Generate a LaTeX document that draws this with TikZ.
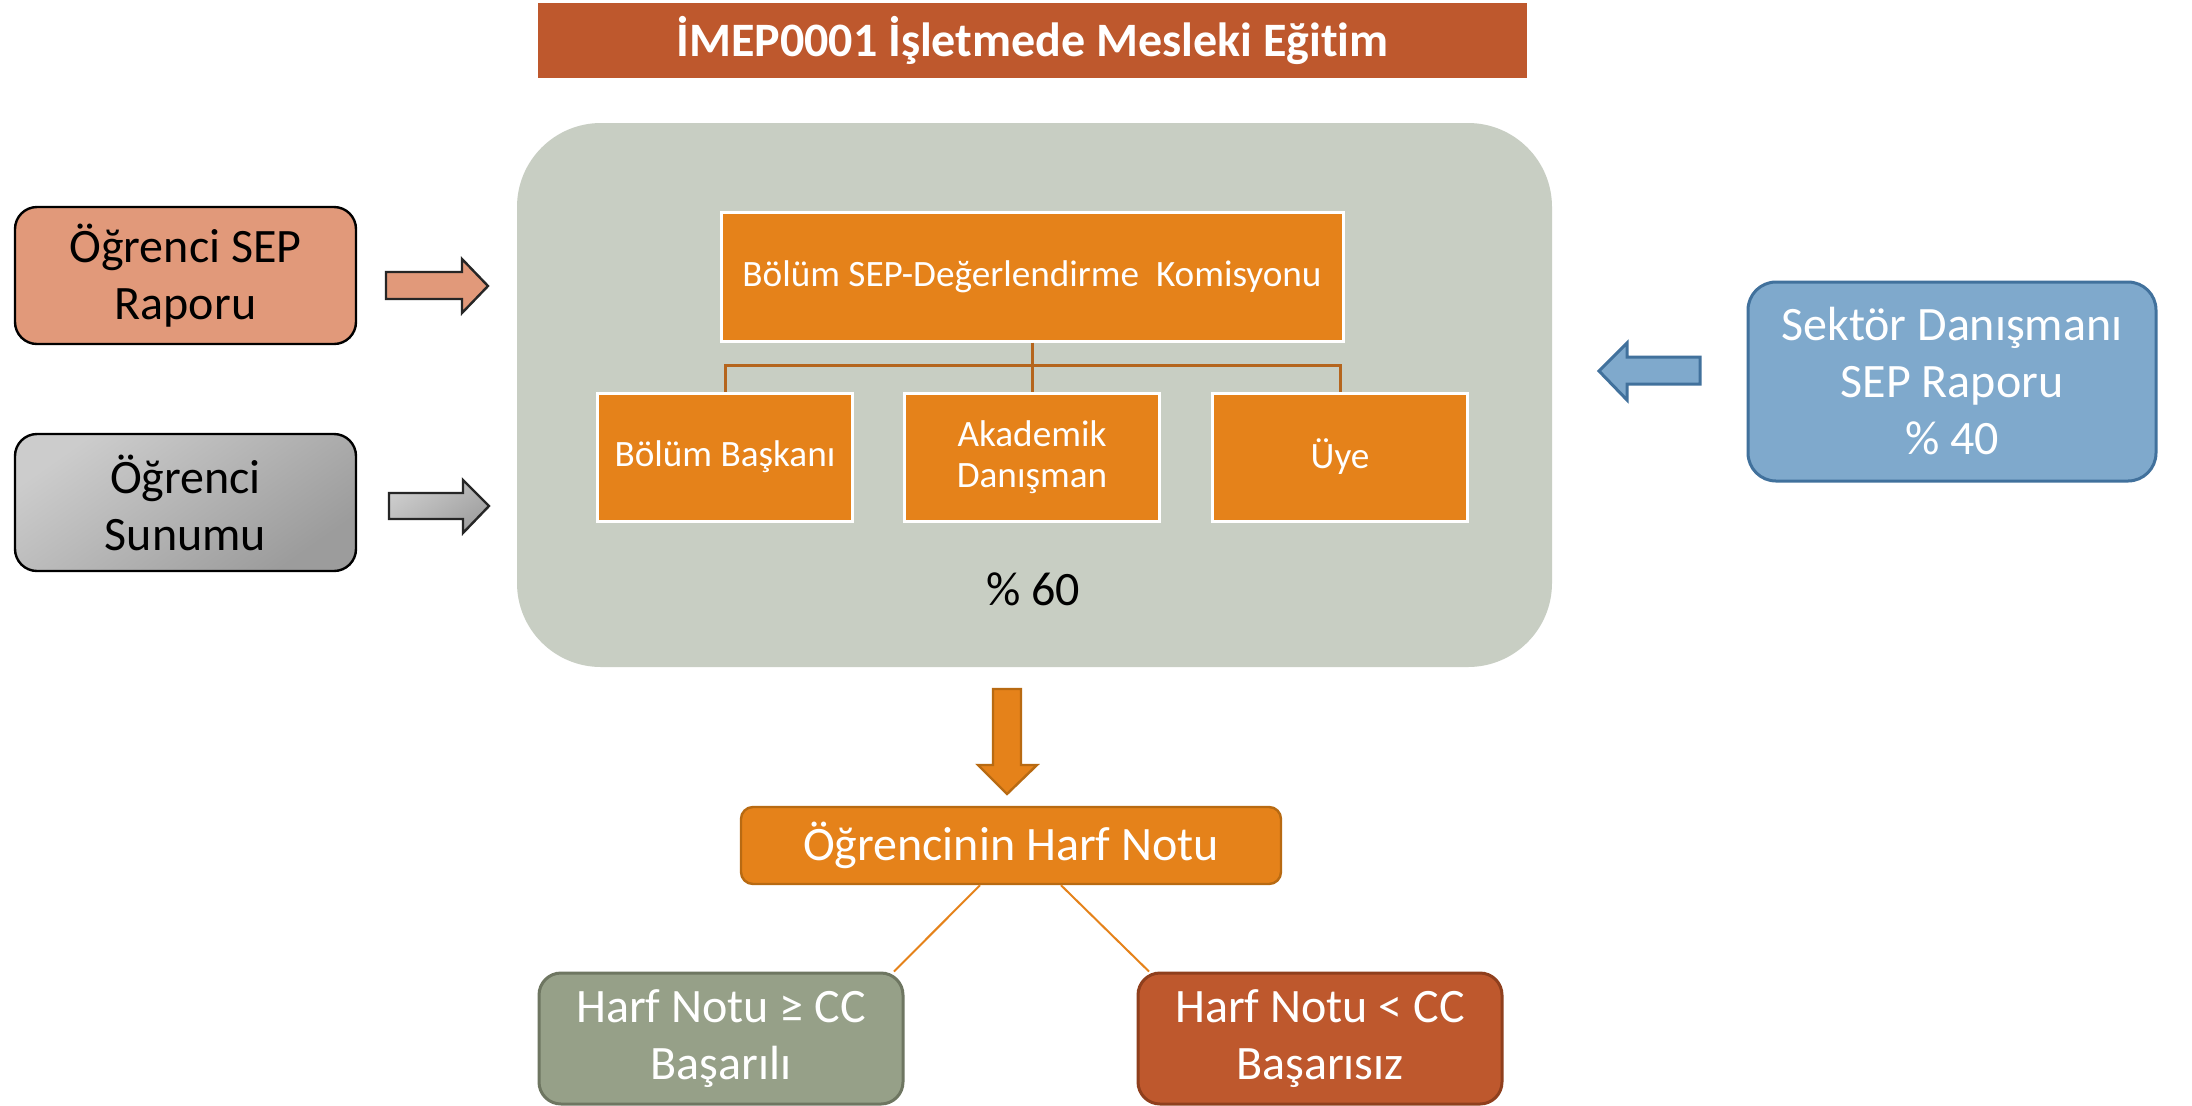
\documentclass[tikz,border=0pt]{standalone}
\usepackage{fontspec}
\setmainfont{Carlito}[Ligatures=NoCommon]
\begin{document}
\begin{tikzpicture}[x=0.5pt,y=-0.5pt,
  big/.style={font=\fontsize{24}{28.5}\selectfont, align=center, inner sep=0pt},
  org/.style={fill=orgorange, draw=white, line width=1.5pt, font=\fontsize{18.6}{20.5}\selectfont, text=white, align=center, inner sep=0pt},
  link/.style={draw=linkbrown, line width=1.5pt},
  leaf/.style={draw=orgorange, line width=1pt}
]
\definecolor{titlered}{HTML}{BE582D}
\definecolor{panelgray}{HTML}{C8CEC3}
\definecolor{orgorange}{HTML}{E5821A}
\definecolor{linkbrown}{HTML}{B5651D}
\definecolor{salmon}{HTML}{E1997A}
\definecolor{skyblue}{HTML}{7FA9CC}
\definecolor{skyborder}{HTML}{41719C}
\definecolor{sage}{HTML}{96A088}
\definecolor{sageborder}{HTML}{6E7661}
\definecolor{redborder}{HTML}{8F3F1D}
\definecolor{orangeborder}{HTML}{B86A12}
\useasboundingbox (0,0) rectangle (2192,1105);
\fill[white] (0,0) rectangle (2192,1105);

% title
\node[fill=titlered, minimum width=494.5pt, minimum height=37.5pt, inner sep=0pt, text=white,
  font=\fontsize{24}{26}\selectfont\bfseries] (title) at (1032.5,40.5) {İMEP0001 İşletmede Mesleki Eğitim};

% central panel
\node[fill=panelgray, rounded corners=42pt, minimum width=517.5pt, minimum height=272pt, inner sep=0pt] (panel) at (1034.5,395) {};

\node[org, minimum width=311pt, minimum height=64.5pt] (komisyon) at (1032,276.5) {Bölüm SEP-Değerlendirme\ \ Komisyonu};
\node[org, minimum width=127.5pt, minimum height=64pt] (baskan) at (725,457) {Bölüm Başkanı};
\node[org, minimum width=127.5pt, minimum height=64pt] (akademik) at (1032,457) {Akademik\\Danışman};
\node[org, minimum width=127.5pt, minimum height=64pt] (uye) at (1340,457) {Üye};

\draw[link] (komisyon.south) -- (akademik.north);
\draw[link] (baskan.north) -- ++(0,-26) -| (uye.north);

\node[big] (yuzde60) at (1033,589) {\% 60};

% left inputs
\node[big, fill=salmon, draw=black, line width=1.2pt, rounded corners=11pt,
  minimum width=170.5pt, minimum height=68.5pt] (rapor) at (185.5,275.5) {Öğrenci SEP\\Raporu};
\node[big, draw=black, line width=1.2pt, rounded corners=11pt,
  top color=gray!40, bottom color=gray!78, shading angle=35,
  minimum width=170.5pt, minimum height=68.5pt] (sunum) at (185.5,502.5) {Öğrenci\\Sunumu};

\draw[fill=salmon, draw=black!85, line width=1.2pt, line join=miter]
  (386,272) -- (462,272) -- (462,259) -- (488,286) -- (462,313) -- (462,299) -- (386,299) -- cycle;
\draw[top color=gray!40, bottom color=gray!75, shading angle=35, draw=black!85, line width=1.2pt]
  (389,493) -- (463,493) -- (463,480) -- (489,506) -- (463,533) -- (463,519) -- (389,519) -- cycle;

% right input
\node[big, fill=skyblue, draw=skyborder, line width=1.5pt, rounded corners=14pt, text=white,
  minimum width=204pt, minimum height=99.5pt] (sektor) at (1952,381.5) {Sektör Danışmanı\\SEP Raporu\\\% 40};
\draw[fill=skyblue, draw=skyborder, line width=1.5pt]
  (1700,357) -- (1627,357) -- (1627,343) -- (1599,371) -- (1627,400) -- (1627,384) -- (1700,384) -- cycle;

% down arrow
\draw[fill=orgorange, draw=orangeborder, line width=1.2pt]
  (993,689) -- (1021,689) -- (1021,765) -- (1037,765) -- (1007,794) -- (978,765) -- (993,765) -- cycle;

% result
\node[big, fill=orgorange, draw=orangeborder, line width=1.2pt, rounded corners=6pt, text=white,
  minimum width=270pt, minimum height=38.5pt] (harf) at (1011,845.5) {Öğrencinin Harf Notu};
\node[big, fill=sage, draw=sageborder, line width=1.5pt, rounded corners=11pt, text=white,
  minimum width=182pt, minimum height=65.5pt] (basarili) at (721,1038.5) {Harf Notu ≥ CC\\Başarılı};
\node[big, fill=titlered, draw=redborder, line width=1.5pt, rounded corners=11pt, text=white,
  minimum width=182pt, minimum height=65.5pt] (basarisiz) at (1320,1038.5) {Harf Notu < CC\\Başarısız};

\draw[leaf] ([xshift=-15.5pt]harf.south) -- ([xshift=86.5pt]basarili.north);
\draw[leaf] ([xshift=25pt]harf.south) -- ([xshift=-85.5pt]basarisiz.north);
\end{tikzpicture}
\end{document}
